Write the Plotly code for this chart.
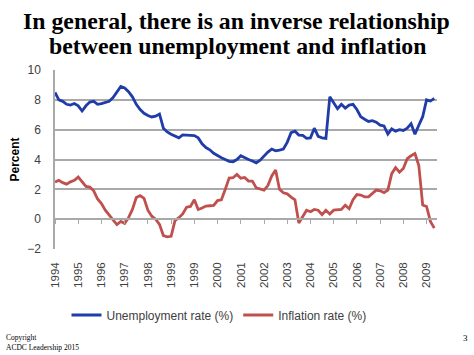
import plotly.graph_objects as go

tick_labels = ["1994", "1995", "1996", "1997", "1998", "1999", "1999", "2000", "2001",
               "2002", "2003", "2004", "2005", "2006", "2007", "2008", "2009"]

# bi-monthly readings (percent)
unemployment = [8.5, 8.0, 7.9, 7.7, 7.65, 7.75, 7.6, 7.25, 7.6, 7.85,
                7.9, 7.7, 7.75, 7.8, 7.9, 8.15, 8.5, 8.9, 8.8, 8.55,
                8.2, 7.7, 7.35, 7.1, 6.95, 6.85, 6.9, 7.05, 6.1, 5.85,
                5.7, 5.6, 5.45, 5.65, 5.65, 5.6, 5.6, 5.45, 5.05, 4.8,
                4.65, 4.42, 4.25, 4.12, 4.0, 3.88, 3.85, 4.0, 4.25, 4.1,
                4.0, 3.9, 3.78, 3.95, 4.25, 4.5, 4.7, 4.58, 4.63, 4.7,
                5.15, 5.8, 5.9, 5.64, 5.62, 5.42, 5.45, 6.1, 5.55, 5.45,
                5.42, 8.2, 7.8, 7.4, 7.7, 7.45, 7.65, 7.7, 7.35, 6.87,
                6.7, 6.55, 6.6, 6.5, 6.3, 6.25, 5.7, 6.05, 5.9, 6.0,
                5.95, 6.1, 6.4, 5.7, 6.3, 6.87, 8.0, 7.92, 8.1]

inflation = [2.5, 2.6, 2.45, 2.35, 2.5, 2.6, 2.82, 2.5, 2.2, 2.15,
             1.9, 1.35, 1.05, 0.6, 0.25, -0.05, -0.36, -0.15, -0.28, 0.1,
             0.65, 1.45, 1.58, 1.4, 0.6, 0.2, 0.0, -0.35, -1.1, -1.18,
             -1.15, -0.1, 0.1, 0.35, 0.8, 0.85, 1.3, 0.65, 0.75, 0.88,
             0.9, 0.92, 1.25, 1.3, 2.0, 2.75, 2.78, 3.0, 2.75, 2.8,
             2.55, 2.55, 2.1, 2.0, 1.95, 2.25, 2.9, 3.3, 2.0, 1.77,
             1.7, 1.48, 1.3, -0.25, 0.2, 0.6, 0.5, 0.65, 0.6, 0.3,
             0.6, 0.35, 0.6, 0.6, 0.65, 0.94, 0.7, 1.3, 1.65, 1.62,
             1.5, 1.5, 1.72, 1.95, 1.9, 1.78, 1.95, 3.05, 3.45, 3.15,
             3.4, 4.05, 4.25, 4.4, 3.6, 0.95, 0.85, -0.15, -0.6]

period = list(range(len(unemployment)))
label_step = 6
tick_positions = [i * label_step for i in range(len(tick_labels))]
x_range = [0, len(unemployment) - 0.3]

SANS = "Liberation Sans, Arial, sans-serif"
SERIF = "Liberation Serif, Times New Roman, serif"
GRID = "#a9a9a9"
TXT = "#404040"

# plot area geometry in pixels (used only to place free text in paper units)
PL, PR, PT, PB = 55, 437, 70, 249
PW, PH = PR - PL, PB - PT


def py(y_px):
    return (PB - y_px) / PH


def px(x_px):
    return (x_px - PL) / PW


fig = go.Figure()
fig.add_trace(go.Scatter(x=period, y=unemployment, mode="lines",
                         name="Unemployment rate (%)",
                         line=dict(color="#1f3ca8", width=2.8)))
fig.add_trace(go.Scatter(x=period, y=inflation, mode="lines",
                         name="Inflation rate (%)", xaxis="x2",
                         line=dict(color="#c0504d", width=2.8)))

fig.update_layout(
    width=474, height=355,
    paper_bgcolor="white", plot_bgcolor="white",
    margin=dict(l=PL, r=474 - PR, t=PT, b=355 - PB, autoexpand=False),
    xaxis=dict(range=x_range, tickvals=tick_positions, ticktext=tick_labels,
               tickangle=-90, showgrid=False, zeroline=False, showline=False,
               ticks="", ticklabelstandoff=10, automargin=False,
               tickfont=dict(family=SANS, size=11.5, color=TXT)),
    xaxis2=dict(range=x_range, overlaying="x", anchor="free", position=2 / 12,
                side="bottom", tickvals=tick_positions, showticklabels=False,
                showgrid=False, zeroline=False, showline=True,
                linecolor=GRID, linewidth=1.5, ticks="outside", ticklen=4,
                tickcolor=GRID, tickwidth=1.2, automargin=False),
    yaxis=dict(range=[-2, 10], dtick=2, showgrid=True, gridcolor=GRID, gridwidth=1.5,
               zeroline=False, showline=True, linecolor=GRID, linewidth=1.5,
               ticks="", ticklabelstandoff=10, automargin=False,
               tickfont=dict(family=SANS, size=12, color=TXT),
               title=dict(text="<b>Percent</b>", standoff=5,
                          font=dict(family=SANS, size=12, color="black"))),
    legend=dict(orientation="h", x=px(219), xanchor="center", y=py(315), yanchor="middle",
                font=dict(family=SANS, size=12, color=TXT), bgcolor="rgba(0,0,0,0)",
                itemwidth=30),
    showlegend=True,
    annotations=[
        dict(text="<b>In general, there is an inverse relationship</b>",
             xref="paper", yref="paper", x=px(236), y=py(21), xanchor="center",
             yanchor="middle", showarrow=False,
             font=dict(family=SERIF, size=23.8, color="black")),
        dict(text="<b>between unemployment and inflation</b>",
             xref="paper", yref="paper", x=px(237), y=py(46), xanchor="center",
             yanchor="middle", showarrow=False,
             font=dict(family=SERIF, size=23.8, color="black")),
        dict(text="Copyright<br>ACDC Leadership 2015", xref="paper", yref="paper",
             x=px(4), y=py(331), xanchor="left", yanchor="top", align="left",
             showarrow=False, font=dict(family=SERIF, size=7.5, color="black")),
        dict(text="3", xref="paper", yref="paper", x=px(470), y=py(331),
             xanchor="right", yanchor="top", showarrow=False,
             font=dict(family=SERIF, size=9, color="black")),
    ],
)

fig.write_html("out.html", config={"displayModeBar": False},
               post_script="document.body.style.margin='0';")
